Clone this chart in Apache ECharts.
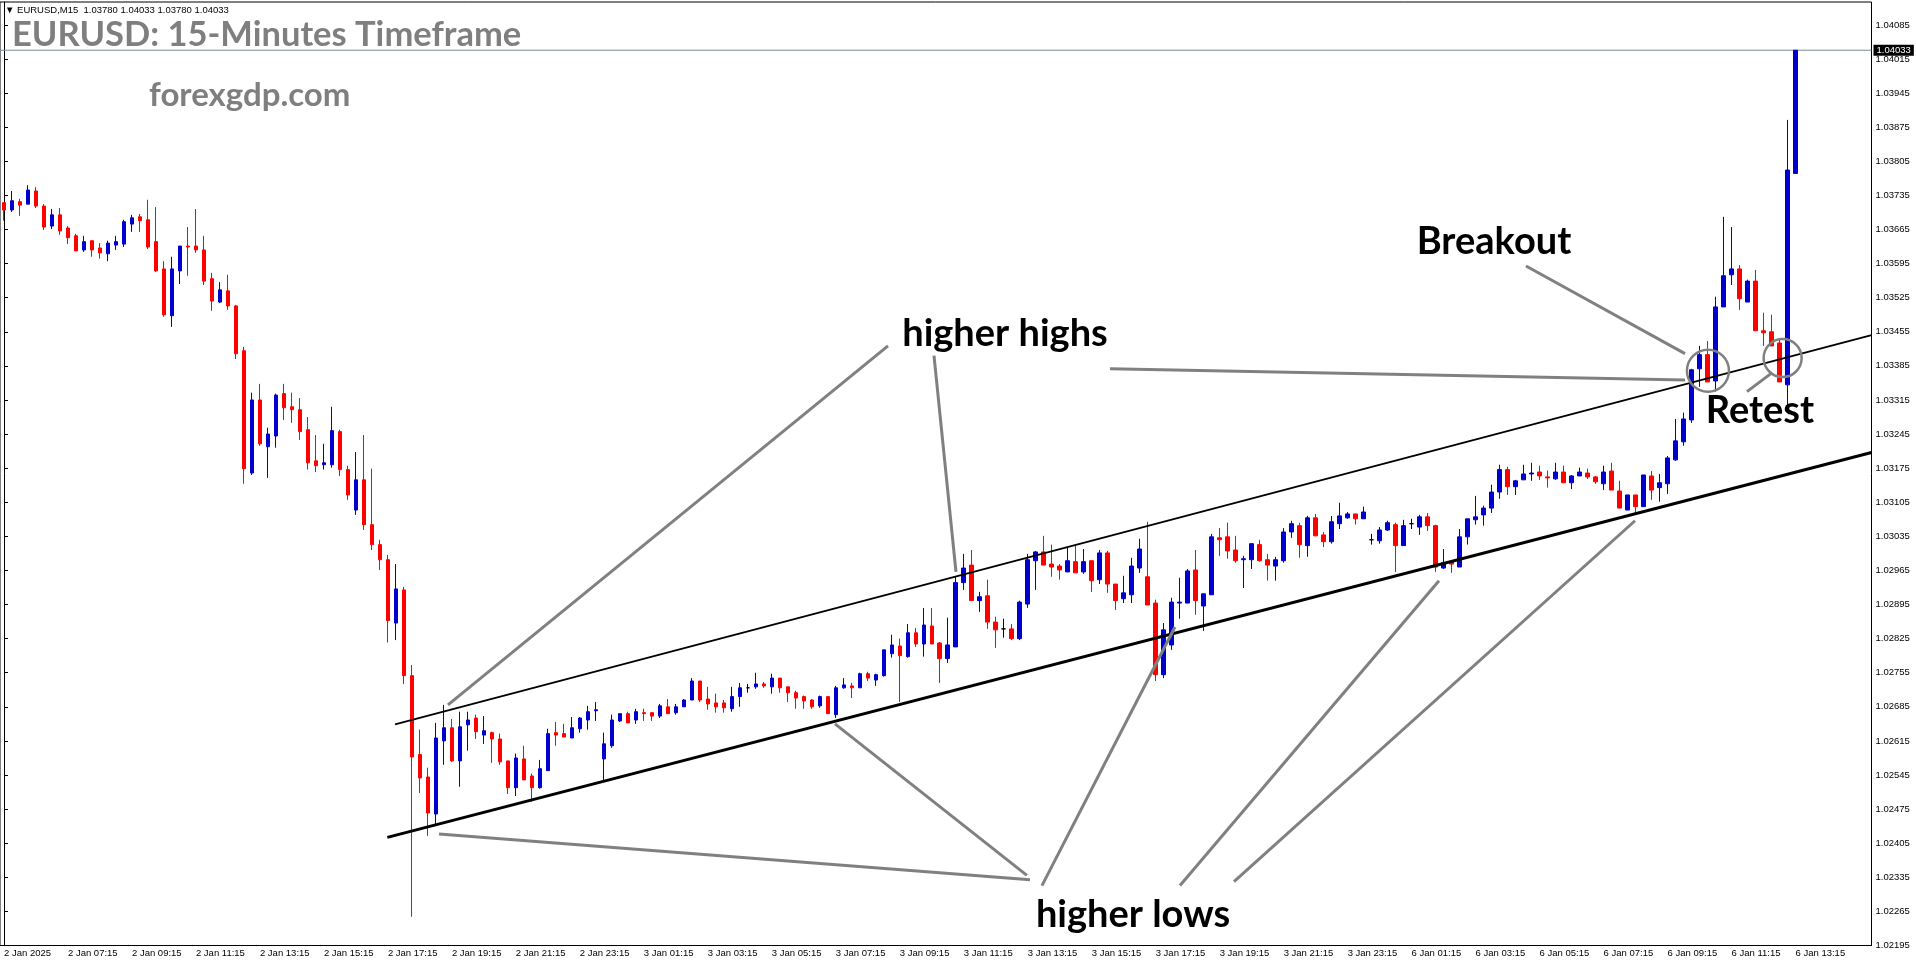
<!DOCTYPE html>
<html><head><meta charset="utf-8">
<script src="https://cdn.jsdelivr.net/npm/echarts@6/dist/echarts.min.js"></script>
<style>html,body{margin:0;padding:0;background:#fff;}#c{width:1916px;height:964px;}</style>
</head><body><div id="c"></div>
<script>
// ---- data (EURUSD M15) ----
const tickLabels = ["2 Jan 2025","2 Jan 07:15","2 Jan 09:15","2 Jan 11:15","2 Jan 13:15","2 Jan 15:15","2 Jan 17:15","2 Jan 19:15","2 Jan 21:15","2 Jan 23:15","3 Jan 01:15","3 Jan 03:15","3 Jan 05:15","3 Jan 07:15","3 Jan 09:15","3 Jan 11:15","3 Jan 13:15","3 Jan 15:15","3 Jan 17:15","3 Jan 19:15","3 Jan 21:15","3 Jan 23:15","6 Jan 01:15","6 Jan 03:15","6 Jan 05:15","6 Jan 07:15","6 Jan 09:15","6 Jan 11:15","6 Jan 13:15"];
const open = [
1.03720,1.03705,1.03722,1.03717,1.03744,1.03713,1.03672,1.03695,1.03668,1.03652,
1.03623,1.03642,1.03627,1.03615,1.03633,1.03635,1.03676,1.03691,1.03685,1.03640,
1.03584,1.03488,1.03580,1.03631,1.03631,1.03623,1.03564,1.03516,1.03539,1.03508,
1.03416,1.03165,1.03315,1.03219,1.03241,1.03328,1.03301,1.03295,1.03254,1.03190,
1.03182,1.03182,1.03250,1.03172,1.03089,1.03151,1.03059,1.03018,1.02987,1.02857,
1.02925,1.02749,1.02587,1.02541,1.02465,1.02615,1.02642,1.02574,1.02648,1.02662,
1.02627,1.02632,1.02619,1.02574,1.02519,1.02578,1.02543,1.02519,1.02554,1.02632,
1.02630,1.02621,1.02640,1.02658,1.02677,1.02578,1.02605,1.02656,1.02671,1.02658,
1.02673,1.02673,1.02666,1.02685,1.02673,1.02685,1.02699,1.02738,1.02701,1.02693,
1.02693,1.02681,1.02706,1.02724,1.02726,1.02732,1.02726,1.02744,1.02726,1.02714,
1.02706,1.02699,1.02687,1.02706,1.02669,1.02724,1.02728,1.02724,1.02753,1.02740,
1.02749,1.02794,1.02810,1.02788,1.02837,1.02814,1.02851,1.02816,1.02784,1.02808,
1.02940,1.02976,1.02903,1.02913,1.02859,1.02845,1.02845,1.02825,1.02896,1.02985,
1.03003,1.02978,1.02974,1.02962,1.02983,1.02962,1.02985,1.02946,1.03001,1.02937,
1.02907,1.02915,1.02970,1.02952,1.02898,1.02751,1.02812,1.02898,1.02898,1.02966,
1.02892,1.02915,1.03032,1.03034,1.03007,1.02987,1.02987,1.03018,1.02987,1.02974,
1.02985,1.03044,1.03057,1.03016,1.03073,1.03038,1.03024,1.03061,1.03073,1.03081,
1.03071,1.03028,1.03026,1.03048,1.03059,1.03016,1.03061,1.03054,1.03075,1.03057,
1.02970,1.02983,1.02972,1.03034,1.03069,1.03079,1.03093,1.03126,1.03172,1.03137,
1.03151,1.03163,1.03167,1.03157,1.03153,1.03167,1.03145,1.03159,1.03165,1.03157,
1.03143,1.03169,1.03128,1.03089,1.03120,1.03096,1.03159,1.03135,1.03143,1.03192,
1.03229,1.03274,1.03379,1.03408,1.03354,1.03506,1.03572,1.03584,1.03516,1.03559,
1.03457,1.03455,1.03432,1.03346,1.03780];
const high = [
1.03720,1.03744,1.03728,1.03756,1.03752,1.03717,1.03707,1.03709,1.03672,1.03656,
1.03652,1.03642,1.03637,1.03642,1.03652,1.03685,1.03695,1.03697,1.03726,1.03711,
1.03600,1.03609,1.03631,1.03670,1.03707,1.03652,1.03576,1.03557,1.03572,1.03510,
1.03424,1.03330,1.03348,1.03258,1.03328,1.03348,1.03330,1.03319,1.03280,1.03243,
1.03225,1.03301,1.03254,1.03180,1.03208,1.03243,1.03174,1.03028,1.02997,1.02978,
1.02931,1.02771,1.02638,1.02560,1.02652,1.02689,1.02660,1.02675,1.02675,1.02669,
1.02666,1.02634,1.02630,1.02574,1.02589,1.02605,1.02548,1.02576,1.02640,1.02654,
1.02650,1.02664,1.02664,1.02687,1.02695,1.02632,1.02669,1.02671,1.02675,1.02681,
1.02681,1.02673,1.02691,1.02701,1.02691,1.02701,1.02744,1.02738,1.02726,1.02712,
1.02699,1.02726,1.02734,1.02732,1.02755,1.02736,1.02753,1.02744,1.02726,1.02718,
1.02708,1.02701,1.02708,1.02706,1.02728,1.02744,1.02734,1.02755,1.02757,1.02753,
1.02802,1.02833,1.02825,1.02855,1.02847,1.02888,1.02888,1.02818,1.02868,1.02952,
1.02999,1.03007,1.02921,1.02946,1.02870,1.02866,1.02855,1.02903,1.02999,1.03005,
1.03036,1.03018,1.02978,1.03011,1.03018,1.03009,1.02985,1.03007,1.03005,1.02937,
1.02954,1.02991,1.03030,1.03065,1.02905,1.02857,1.02909,1.02950,1.02968,1.03007,
1.02917,1.03040,1.03052,1.03063,1.03036,1.02995,1.03020,1.03028,1.02999,1.02993,
1.03052,1.03067,1.03063,1.03077,1.03081,1.03044,1.03077,1.03104,1.03085,1.03081,
1.03096,1.03040,1.03054,1.03067,1.03063,1.03069,1.03071,1.03079,1.03083,1.03059,
1.03009,1.02983,1.03050,1.03071,1.03118,1.03098,1.03141,1.03182,1.03178,1.03151,
1.03182,1.03186,1.03180,1.03170,1.03186,1.03180,1.03161,1.03176,1.03174,1.03159,
1.03180,1.03186,1.03149,1.03120,1.03120,1.03161,1.03169,1.03163,1.03200,1.03276,
1.03289,1.03379,1.03426,1.03436,1.03527,1.03691,1.03670,1.03592,1.03562,1.03582,
1.03494,1.03490,1.03440,1.03890,1.04033];
const low = [
1.03683,1.03701,1.03693,1.03717,1.03709,1.03664,1.03666,1.03654,1.03635,1.03621,
1.03619,1.03609,1.03605,1.03600,1.03623,1.03629,1.03660,1.03660,1.03625,1.03578,
1.03486,1.03465,1.03553,1.03570,1.03617,1.03551,1.03498,1.03514,1.03500,1.03399,
1.03143,1.03161,1.03221,1.03155,1.03217,1.03274,1.03268,1.03233,1.03172,1.03167,
1.03172,1.03176,1.03159,1.03110,1.03079,1.03048,1.03007,1.02966,1.02817,1.02822,
1.02732,1.02254,1.02508,1.02420,1.02441,1.02566,1.02572,1.02521,1.02595,1.02619,
1.02609,1.02570,1.02566,1.02506,1.02502,1.02535,1.02490,1.02517,1.02554,1.02605,
1.02623,1.02621,1.02632,1.02638,1.02656,1.02535,1.02601,1.02654,1.02652,1.02650,
1.02656,1.02656,1.02662,1.02671,1.02669,1.02685,1.02699,1.02695,1.02679,1.02673,
1.02673,1.02675,1.02685,1.02714,1.02722,1.02724,1.02712,1.02714,1.02695,1.02681,
1.02681,1.02681,1.02683,1.02671,1.02662,1.02722,1.02703,1.02724,1.02738,1.02728,
1.02747,1.02786,1.02695,1.02786,1.02808,1.02788,1.02814,1.02734,1.02775,1.02808,
1.02925,1.02903,1.02880,1.02845,1.02806,1.02827,1.02822,1.02822,1.02888,1.02925,
1.02976,1.02952,1.02946,1.02962,1.02960,1.02958,1.02921,1.02937,1.02919,1.02884,
1.02898,1.02898,1.02960,1.02894,1.02738,1.02744,1.02802,1.02866,1.02898,1.02874,
1.02841,1.02915,1.02995,1.02989,1.02981,1.02929,1.02968,1.02983,1.02944,1.02944,
1.02981,1.03032,1.02991,1.02993,1.03036,1.03013,1.03020,1.03050,1.03071,1.03059,
1.03071,1.03018,1.03020,1.03046,1.02962,1.03016,1.03050,1.03038,1.03046,1.02962,
1.02968,1.02960,1.02972,1.03018,1.03059,1.03057,1.03083,1.03112,1.03120,1.03120,
1.03151,1.03149,1.03151,1.03135,1.03151,1.03145,1.03132,1.03159,1.03153,1.03143,
1.03130,1.03130,1.03093,1.03089,1.03081,1.03096,1.03110,1.03106,1.03122,1.03190,
1.03221,1.03268,1.03342,1.03352,1.03332,1.03506,1.03551,1.03500,1.03516,1.03457,
1.03426,1.03426,1.03352,1.03291,1.03780];
const close = [
1.03705,1.03724,1.03715,1.03746,1.03713,1.03670,1.03695,1.03662,1.03648,1.03621,
1.03640,1.03623,1.03617,1.03637,1.03640,1.03681,1.03689,1.03683,1.03629,1.03580,
1.03490,1.03584,1.03631,1.03629,1.03623,1.03559,1.03518,1.03541,1.03508,1.03410,
1.03174,1.03315,1.03225,1.03245,1.03325,1.03299,1.03295,1.03250,1.03186,1.03180,
1.03186,1.03252,1.03172,1.03120,1.03151,1.03059,1.03018,1.02987,1.02862,1.02927,
1.02749,1.02582,1.02539,1.02467,1.02621,1.02642,1.02574,1.02644,1.02658,1.02634,
1.02636,1.02619,1.02572,1.02519,1.02580,1.02535,1.02519,1.02558,1.02630,1.02627,
1.02623,1.02642,1.02662,1.02675,1.02679,1.02609,1.02658,1.02671,1.02652,1.02675,
1.02671,1.02666,1.02687,1.02671,1.02685,1.02699,1.02738,1.02699,1.02691,1.02685,
1.02683,1.02706,1.02724,1.02724,1.02732,1.02728,1.02744,1.02724,1.02714,1.02703,
1.02697,1.02685,1.02706,1.02671,1.02724,1.02730,1.02724,1.02753,1.02744,1.02751,
1.02802,1.02812,1.02790,1.02837,1.02814,1.02853,1.02814,1.02784,1.02812,1.02940,
1.02970,1.02903,1.02911,1.02859,1.02843,1.02845,1.02825,1.02900,1.02987,1.03003,
1.02976,1.02972,1.02966,1.02985,1.02960,1.02983,1.02944,1.03001,1.02937,1.02903,
1.02919,1.02974,1.03009,1.02894,1.02751,1.02843,1.02900,1.02900,1.02964,1.02903,
1.02917,1.03034,1.03028,1.03005,1.02985,1.02989,1.03020,1.02985,1.02976,1.02987,
1.03044,1.03061,1.03018,1.03073,1.03036,1.03024,1.03065,1.03077,1.03081,1.03071,
1.03085,1.03028,1.03048,1.03063,1.03016,1.03057,1.03061,1.03075,1.03057,1.02972,
1.02981,1.02978,1.03034,1.03071,1.03075,1.03093,1.03126,1.03172,1.03137,1.03149,
1.03163,1.03165,1.03159,1.03155,1.03167,1.03145,1.03159,1.03167,1.03157,1.03147,
1.03167,1.03130,1.03093,1.03120,1.03096,1.03161,1.03130,1.03145,1.03196,1.03231,
1.03276,1.03377,1.03408,1.03352,1.03506,1.03570,1.03584,1.03523,1.03559,1.03457,
1.03453,1.03426,1.03352,1.03787,1.04033];
const lastPrice = 1.04033;
const yMin = 1.02195, yMax = 1.04132, yStep = 0.0007;
const barsTotal = 234;      // candles + right-side shift
const labelEvery = 8;
// trend lines & annotations in data units [bar index, price]
const channelUpper = [[48.89, 1.02649], [233.5, 1.03448]];
const channelLower = [[47.93, 1.02417], [233.5, 1.03207]];
const highsPointers = [
  [[110.53, 1.03426], [55.51, 1.02689]],
  [[116.28, 1.03406], [119.03, 1.02962]],
  [[138.28, 1.03379], [210.18, 1.03356]]
];
const lowsPointers = [
  [[128.28, 1.02330], [54.39, 1.02424]],
  [[127.90, 1.02339], [103.90, 1.02650]],
  [[129.78, 1.02318], [146.41, 1.02849]],
  [[147.04, 1.02318], [179.42, 1.02944]],
  [[153.79, 1.02326], [203.93, 1.03067]]
];
const breakoutPointer = [[190.30, 1.03590], [210.18, 1.03410]];
const retestPointer = [[217.93, 1.03332], [220.92, 1.03369]];
const breakoutCircle = [213.05, 1.03375];
const retestCircle = [222.39, 1.03401];

// ---- chart ----
const categories = Array.from({length: barsTotal}, (_, i) => String(i));
const candles = open.map((o, i) => [o, close[i], low[i], high[i]]);
const showTick = (i) => i % labelEvery === 0 && i / labelEvery < tickLabels.length;
const grey = '#808080';
const annFont = 'bold 38px Lato';
const lineSeries = (data, color, width, z) => ({
  type: 'lines', coordinateSystem: 'cartesian2d', xAxisIndex: 1, yAxisIndex: 0, silent: true, z: z,
  lineStyle: {color: color, width: width, opacity: 1}, data: data.map(c => ({coords: c}))
});

const chart = echarts.init(document.getElementById('c'), null, {renderer: 'canvas'});
chart.setOption({
  animation: false,
  backgroundColor: '#fff',
  grid: {left: 0, right: 44.5, top: 2, bottom: 18.5, show: true, borderColor: '#000', borderWidth: 1},
  xAxis: [{
    type: 'category', data: categories, boundaryGap: true,
    axisLine: {lineStyle: {color: '#000', width: 1}},
    axisTick: {alignWithLabel: true, interval: showTick, length: 4, lineStyle: {color: '#000'}},
    axisLabel: {interval: showTick, formatter: (v, i) => tickLabels[i / labelEvery], align: 'left', margin: 3,
      fontSize: 9.5, fontFamily: 'Liberation Sans', color: '#000'},
    splitLine: {show: false}
  }, {
    type: 'value', min: -0.5, max: barsTotal - 0.5, show: false
  }],
  yAxis: [{
    type: 'value', position: 'right', min: yMin, max: yMax, interval: yStep,
    axisLine: {show: true, lineStyle: {color: '#000'}},
    axisTick: {show: true, length: 4, lineStyle: {color: '#000'}},
    axisLabel: {formatter: (v) => v.toFixed(5), fontSize: 9.5, fontFamily: 'Liberation Sans', margin: 4, color: '#000', showMaxLabel: false},
    splitLine: {show: false}
  }],
  series: [{
    type: 'candlestick', xAxisIndex: 0, yAxisIndex: 0, barWidth: 4, data: candles, z: 2,
    itemStyle: {color: '#0000cc', color0: '#ff0000', borderColor: '#0000cc', borderColor0: '#ff0000', borderColorDoji: '#000', borderWidth: 1}
  }, {
    type: 'line', xAxisIndex: 1, yAxisIndex: 0, silent: true, z: 1, symbol: 'none',
    data: [[-0.5, lastPrice], [barsTotal - 0.5, lastPrice]],
    lineStyle: {color: '#778899', width: 1},
    endLabel: {show: true, formatter: () => lastPrice.toFixed(5), backgroundColor: '#000', color: '#fff',
      fontSize: 9.5, fontFamily: 'Liberation Sans', padding: [1, 3, 0, 3], distance: 2}
  },
  lineSeries([channelUpper], '#000', 1.7, 5),
  lineSeries([channelLower], '#000', 3, 5),
  lineSeries(highsPointers.concat(lowsPointers, [breakoutPointer, retestPointer]), grey, 3, 6),
  {
    type: 'scatter', xAxisIndex: 1, yAxisIndex: 0, silent: true, z: 7, symbolSize: 42,
    itemStyle: {color: 'rgba(0,0,0,0)', borderColor: grey, borderWidth: 2.5, opacity: 1},
    data: [breakoutCircle]
  }, {
    type: 'scatter', xAxisIndex: 1, yAxisIndex: 0, silent: true, z: 7, symbolSize: 38,
    itemStyle: {color: 'rgba(0,0,0,0)', borderColor: grey, borderWidth: 2.5, opacity: 1},
    data: [retestCircle]
  }],
  graphic: [
    {type: 'text', x: 5, y: 10, z: 20, style: {text: '\u25BC EURUSD,M15  1.03780 1.04033 1.03780 1.04033', font: '9.5px "Liberation Sans"', fill: '#000', verticalAlign: 'middle'}},
    {type: 'text', x: 12, y: 35, z: 20, style: {text: 'EURUSD: 15-Minutes Timeframe', font: 'bold 34.5px Lato', fill: '#7f7f7f', verticalAlign: 'middle'}},
    {type: 'text', x: 149, y: 95, z: 20, style: {text: 'forexgdp.com', font: 'bold 33px Lato', fill: '#7f7f7f', verticalAlign: 'middle'}},
    {type: 'text', x: 1005, y: 334, z: 20, style: {text: 'higher highs', font: annFont, fill: '#000', align: 'center', verticalAlign: 'middle'}},
    {type: 'text', x: 1494, y: 242, z: 20, style: {text: 'Breakout', font: annFont, fill: '#000', align: 'center', verticalAlign: 'middle'}},
    {type: 'text', x: 1760, y: 411, z: 20, style: {text: 'Retest', font: annFont, fill: '#000', align: 'center', verticalAlign: 'middle'}},
    {type: 'text', x: 1133, y: 915, z: 20, style: {text: 'higher lows', font: annFont, fill: '#000', align: 'center', verticalAlign: 'middle'}}
  ]
});
</script>
</body></html>
